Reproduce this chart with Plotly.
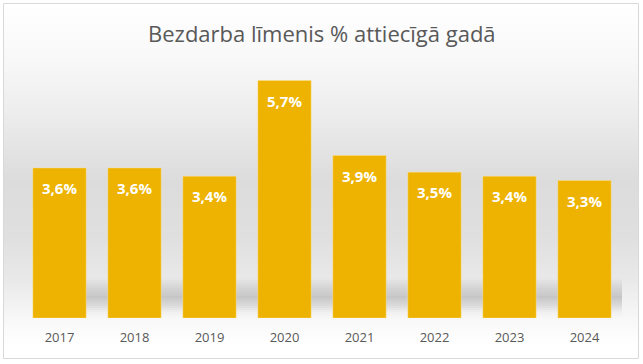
import plotly.graph_objects as go

years = ["2017", "2018", "2019", "2020", "2021", "2022", "2023", "2024"]
rates = [3.6, 3.6, 3.4, 5.7, 3.9, 3.5, 3.4, 3.3]
labels = [f"{v:.1f}%".replace(".", ",") for v in rates]
title_text = "Bezdarba līmenis % attiecīgā gadā"

W, H = 643, 364
L, R, T, B = 22, 21, 68, 46
PW, PH = W - L - R, H - T - B


def px(x):
    return (x - L) / PW


def py(y):
    return (H - B - y) / PH


def lerp_color(stops, y):
    for (y0, c0), (y1, c1) in zip(stops, stops[1:]):
        if y0 <= y <= y1:
            t = (y - y0) / (y1 - y0) if y1 > y0 else 0
            return tuple(round(a + (b - a) * t) for a, b in zip(c0, c1))
    return stops[-1][1] if y > stops[-1][0] else stops[0][1]


bg_stops = [(4, (255, 255, 255)), (60, (248, 248, 248)), (120, (235, 235, 235)),
            (180, (220, 220, 220)), (235, (223, 223, 223)), (280, (233, 233, 233)),
            (320, (248, 248, 248)), (345, (255, 255, 255)), (358, (255, 255, 255))]

shapes = []
step = 2
for y in range(4, 358, step):
    c = lerp_color(bg_stops, y + step / 2)
    shapes.append(dict(type="rect", xref="paper", yref="paper", layer="below",
                       x0=px(4), x1=px(638), y0=py(y), y1=py(min(y + step, 358)),
                       fillcolor=f"rgb{c}", line=dict(width=0)))

# perspective shadow band
sh_stops = [(278, 0.0), (288, 0.10), (297, 0.17), (305, 0.10), (312, 0.02), (318, 0.0)]


def sh_alpha(y):
    for (y0, a0), (y1, a1) in zip(sh_stops, sh_stops[1:]):
        if y0 <= y <= y1:
            return a0 + (a1 - a0) * (y - y0) / (y1 - y0)
    return 0


for y in range(278, 318, 2):
    a = sh_alpha(y + 1)
    shapes.append(dict(type="rect", xref="paper", yref="paper", layer="below",
                       x0=px(50), x1=px(622), y0=py(y), y1=py(y + 2),
                       fillcolor=f"rgba(0,0,0,{a:.3f})", line=dict(width=0)))

shapes.append(dict(type="rect", xref="paper", yref="paper", layer="below",
                   x0=px(3.5), x1=px(638.5), y0=py(3.5), y1=py(358.5),
                   fillcolor="rgba(0,0,0,0)", line=dict(color="#d9d9d9", width=1)))

fig = go.Figure()
fig.add_trace(go.Bar(
    x=years, y=rates, width=0.71,
    marker=dict(color="#EDB300", line=dict(color="rgba(255,225,140,0.7)", width=0.6)),
    hoverinfo="skip", showlegend=False,
))

annotations = []
for i, (v, lab) in enumerate(zip(rates, labels)):
    annotations.append(dict(x=i, y=v, xref="x", yref="y", text=f"<b>{lab}</b>",
                            showarrow=False, yanchor="middle", yshift=-20,
                            font=dict(family="Open Sans", size=15, color="white")))
annotations.append(dict(x=0.5, y=py(33), xref="paper", yref="paper", text=title_text,
                        showarrow=False, xanchor="center", yanchor="middle",
                        font=dict(family="Open Sans", size=22, color="#595959")))

fig.update_layout(
    width=W, height=H,
    margin=dict(l=L, r=R, t=T, b=B),
    paper_bgcolor="white", plot_bgcolor="rgba(0,0,0,0)",
    shapes=shapes, annotations=annotations,
    xaxis=dict(type="category", range=[-0.5, len(years) - 0.5], autorange=False,
               showgrid=False, zeroline=False, showline=False, ticks="",
               tickfont=dict(family="Open Sans", size=13, color="#595959"),
               ticklabelstandoff=10),
    yaxis=dict(range=[0, 6], autorange=False, visible=False, showgrid=False, zeroline=False),
)

fig.write_html("out.html", config={"displayModeBar": False, "staticPlot": True},
               post_script="document.body.style.margin='0';document.body.style.overflow='hidden';")
